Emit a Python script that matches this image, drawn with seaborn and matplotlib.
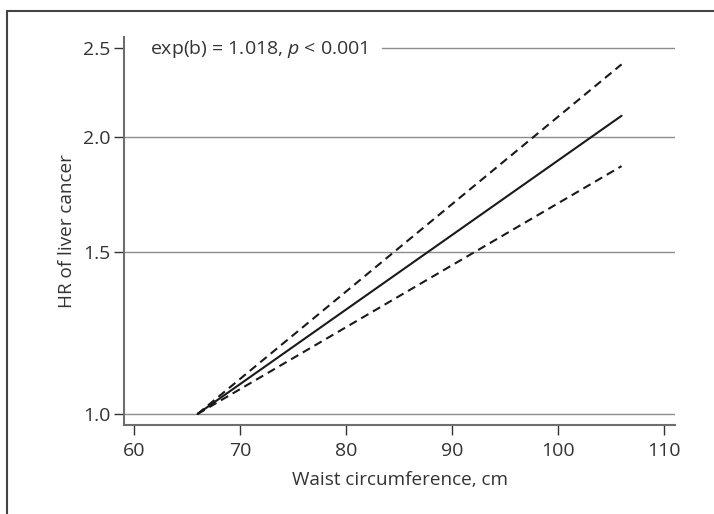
import numpy as np
import pandas as pd
import matplotlib
matplotlib.use("Agg")
import matplotlib.pyplot as plt
from matplotlib.lines import Line2D
import seaborn as sns

# values (HR is straight on a log axis, so ends are enough)
waist = [66, 106]
hr = [1.0, 2.11]
hr_lower = [1.0, 1.86]
hr_upper = [1.0, 2.40]
y_ticks = [1.0, 1.5, 2.0, 2.5]
x_ticks = [60, 70, 80, 90, 100, 110]
note = "exp(b) = 1.018, $\\mathit{p}$ < 0.001"

sns.set_style("white")
plt.rcParams['font.family'] = ['Open Sans', 'DejaVu Sans']
plt.rcParams['mathtext.fontset'] = 'custom'
plt.rcParams['mathtext.rm'] = 'Open Sans'
plt.rcParams['mathtext.it'] = 'Open Sans:italic'

df = pd.DataFrame({"waist": waist, "hr": hr, "lo": hr_lower, "hi": hr_upper})

fig = plt.figure(figsize=(7.14, 5.14), dpi=100)
ax = fig.add_axes([124 / 714, 1 - 425 / 514, (675 - 124) / 714, (425 - 37) / 514])

# horizontal reference lines (the top one stops short of the annotation)
for y in y_ticks:
    start = 0.468 if y == 2.5 else 0
    ax.axhline(y, xmin=start, color="#8c8c8c", lw=1, zorder=0)

sns.lineplot(data=df, x="waist", y="hr", ax=ax, color="#1a1a1a", lw=1.5)
sns.lineplot(data=df, x="waist", y="lo", ax=ax, color="#1a1a1a", lw=1.5, linestyle=(0, (4, 2.5)))
sns.lineplot(data=df, x="waist", y="hi", ax=ax, color="#1a1a1a", lw=1.5, linestyle=(0, (4, 2.5)))

ax.set_yscale("log")
ax.set_xlim(59.06, 111.04)
ax.set_ylim(0.9728, 2.57)
ax.set_yticks(y_ticks)
ax.set_yticklabels(["{:.1f}".format(v) for v in y_ticks])
ax.yaxis.set_minor_locator(matplotlib.ticker.NullLocator())
ax.set_xticks(x_ticks)

for s in ["top", "right"]:
    ax.spines[s].set_visible(False)
for s in ["left", "bottom"]:
    ax.spines[s].set_color("#6e6e6e")
    ax.spines[s].set_linewidth(1.5)

ax.tick_params(axis="y", direction="out", length=7, width=1, color="#333333",
               labelsize=14, labelcolor="#333333", pad=3, left=True)
ax.tick_params(axis="x", direction="out", length=7, width=1, color="#333333",
               labelsize=14, labelcolor="#333333", pad=5, bottom=True)

ax.set_xlabel("Waist circumference, cm", fontsize=13.6, color="#333333", labelpad=8)
ax.set_ylabel("HR of liver cancer", fontsize=13.6, color="#333333", labelpad=5)

ax.text(150 / 714, 1 - 49 / 514, note, transform=fig.transFigure,
        fontsize=14, color="#333333", va="center", ha="left")

# outer frame of the figure panel
fig.add_artist(Line2D([7 / 714, 7 / 714], [0, 1 - 11 / 514], color="#444444", lw=1.5))
fig.add_artist(Line2D([7 / 714, 1], [1 - 11 / 514, 1 - 11 / 514], color="#444444", lw=1.5))

fig.savefig("out.png", dpi=100)
